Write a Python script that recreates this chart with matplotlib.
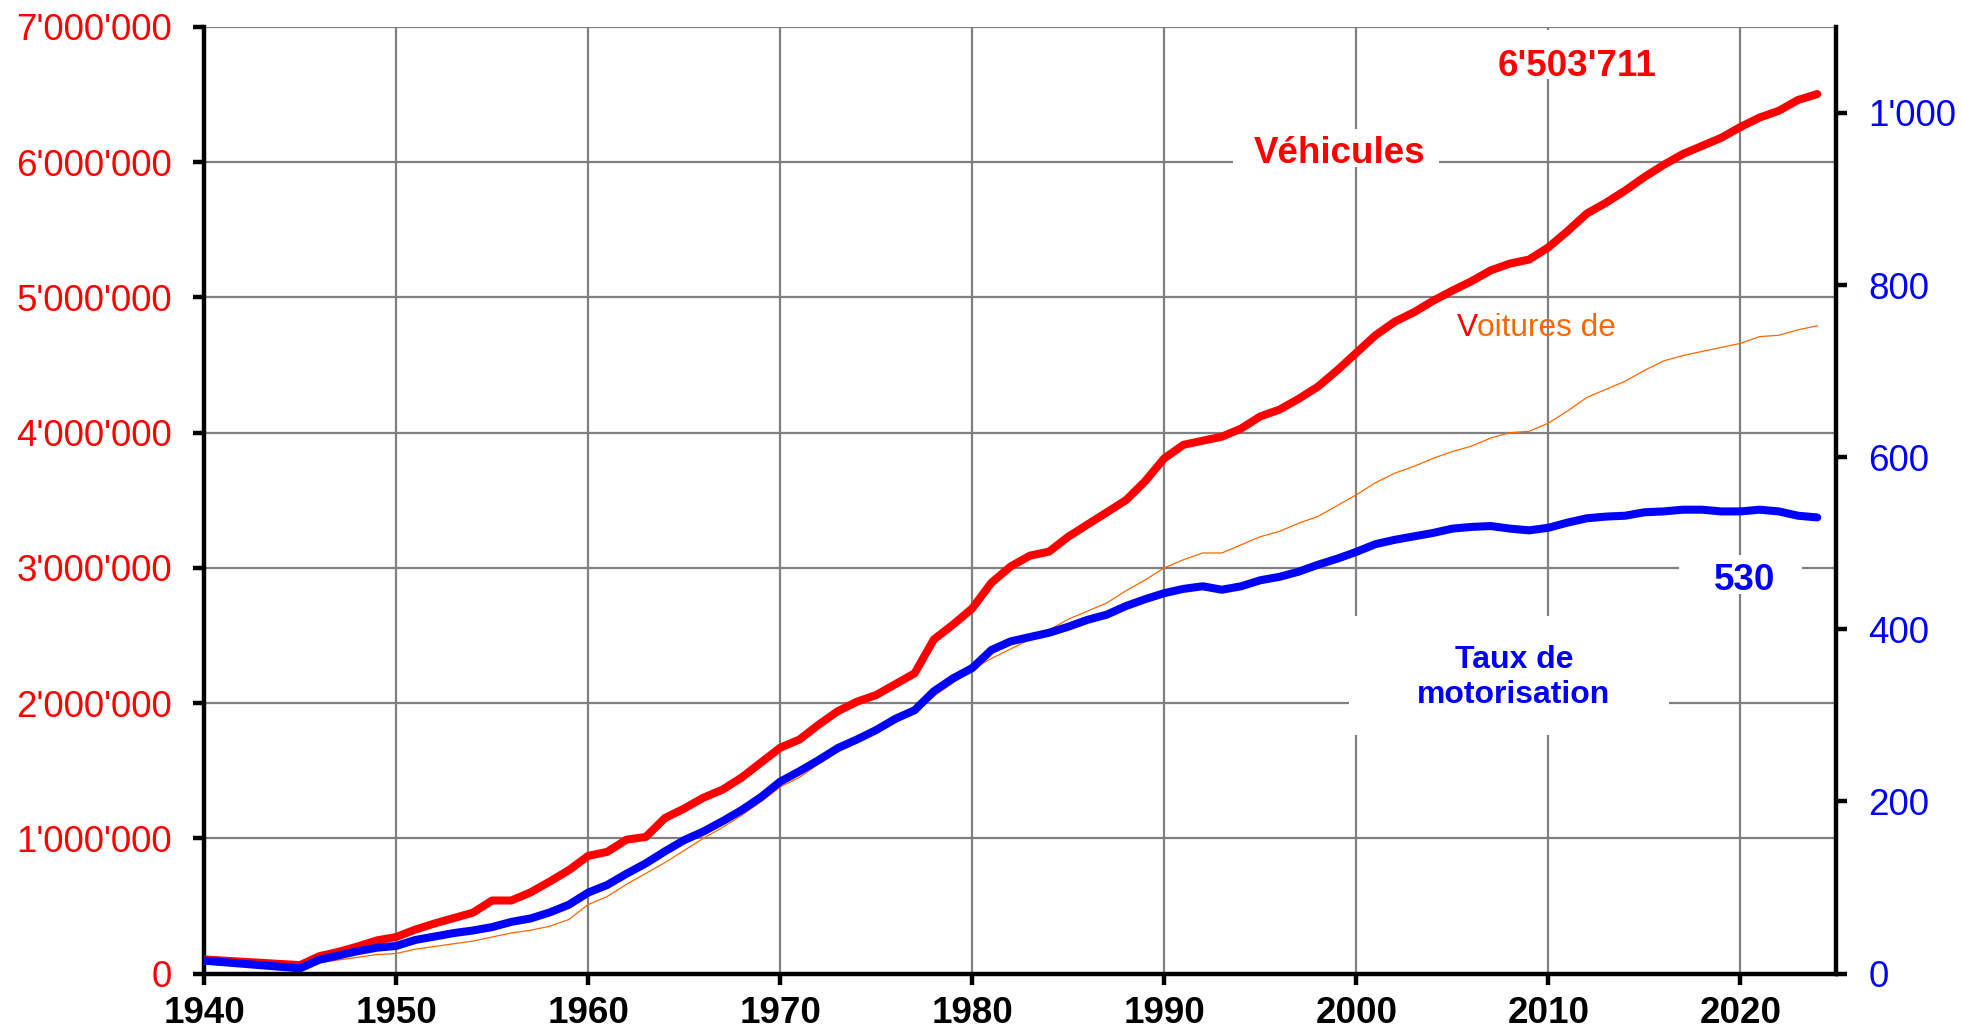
import matplotlib.pyplot as plt
from matplotlib.ticker import FuncFormatter, MultipleLocator

plt.rcParams['font.family'] = ['Liberation Sans', 'DejaVu Sans']

# data (1941-1944 missing in the source)
years = [1940] + list(range(1945, 2025))

vehicles = [0.104,
            0.062, 0.128, 0.16, 0.20, 0.245,
            0.27, 0.325, 0.37, 0.41, 0.45, 0.54, 0.54, 0.60, 0.68, 0.765,
            0.87, 0.90, 0.99, 1.01, 1.15, 1.22, 1.30, 1.36, 1.45, 1.56,
            1.67, 1.73, 1.84, 1.94, 2.01, 2.06, 2.14, 2.22, 2.47, 2.58,
            2.70, 2.89, 3.01, 3.09, 3.12, 3.23, 3.32, 3.41, 3.50, 3.64,
            3.81, 3.91, 3.94, 3.97, 4.03, 4.12, 4.17, 4.25, 4.34, 4.46,
            4.59, 4.72, 4.82, 4.89, 4.975, 5.05, 5.12, 5.20, 5.25, 5.28,
            5.37, 5.49, 5.62, 5.70, 5.79, 5.89, 5.98, 6.06, 6.12, 6.18,
            6.26, 6.33, 6.38, 6.46, 6.503711]

cars = [0.07,
        0.03, 0.08, 0.10, 0.12, 0.14,
        0.148, 0.18, 0.20, 0.22, 0.24, 0.27, 0.30, 0.32, 0.35, 0.40,
        0.51, 0.57, 0.66, 0.74, 0.82, 0.91, 1.00, 1.08, 1.17, 1.27,
        1.38, 1.45, 1.55, 1.64, 1.71, 1.79, 1.86, 1.94, 2.05, 2.15,
        2.25, 2.33, 2.40, 2.47, 2.54, 2.62, 2.68, 2.74, 2.83, 2.91,
        3.00, 3.06, 3.11, 3.11, 3.17, 3.23, 3.27, 3.33, 3.38, 3.46,
        3.54, 3.63, 3.70, 3.75, 3.81, 3.86, 3.90, 3.96, 4.00, 4.01,
        4.07, 4.16, 4.26, 4.32, 4.38, 4.46, 4.53, 4.57, 4.60, 4.63,
        4.66, 4.71, 4.72, 4.76, 4.79]

rate = [15,
        6, 16, 21, 26, 30,
        32, 39, 43, 47, 50, 54, 60, 64, 71, 80,
        94, 103, 116, 128, 142, 155, 165, 177, 190, 205,
        223, 235, 248, 262, 272, 283, 296, 306, 328, 343,
        355, 376, 386, 391, 396, 403, 411, 417, 427, 435,
        442, 447, 450, 446, 450, 457, 461, 467, 475, 482,
        490, 499, 504, 508, 512, 517, 519, 520, 517, 515,
        518, 524, 529, 531, 532, 536, 537, 539, 539, 537,
        537, 539, 537, 532, 530]

vehicles = [v * 1e6 for v in vehicles]
cars = [v * 1e6 for v in cars]

RED = '#ff0000'
BLUE = '#0000ff'
ORANGE = '#ff6600'

fig = plt.figure(figsize=(19.62, 10.36), dpi=100)
ax = fig.add_axes([0.104, 0.0603, 0.832, 0.9137])
ax2 = ax.twinx()

ax.plot(years, cars, color=ORANGE, lw=0.9, zorder=3)
ax.plot(years, vehicles, color=RED, lw=5.8, zorder=4, solid_capstyle='round')
ax2.plot(years, rate, color=BLUE, lw=5.8, zorder=4, solid_capstyle='round')

ax.set_xlim(1940, 2025)
ax.set_ylim(0, 7e6)
ax2.set_ylim(0, 1100)

ax.xaxis.set_major_locator(MultipleLocator(10))
ax.yaxis.set_major_locator(MultipleLocator(1e6))
ax2.yaxis.set_major_locator(MultipleLocator(200))

fmt = FuncFormatter(lambda v, p: f"{int(round(v)):,}".replace(',', "'"))
ax.yaxis.set_major_formatter(fmt)
ax2.yaxis.set_major_formatter(fmt)

ax.set_axisbelow(True)
ax.grid(True, color='#808080', lw=1.6)

for s in ['top', 'right']:
    ax.spines[s].set_visible(False)
for s in ['top', 'left', 'bottom']:
    ax2.spines[s].set_visible(False)
for s in [ax.spines['left'], ax.spines['bottom'], ax2.spines['right']]:
    s.set_linewidth(3.2)
    s.set_color('black')

ax.tick_params(axis='y', direction='out', length=8, width=3.2, pad=15,
               labelsize=26.5, labelcolor=RED)
ax.tick_params(axis='x', direction='out', length=8, width=3.2, pad=8,
               labelsize=26.5)
for lab in ax.get_xticklabels():
    lab.set_fontweight('bold')
ax2.tick_params(axis='y', direction='out', length=8, width=3.2, pad=15,
                labelsize=26.5, labelcolor=BLUE)


def white_box(x0, x1, y0, y1):
    ax.add_patch(plt.Rectangle((x0, y0), x1 - x0, y1 - y0, fc='white',
                               ec='none', zorder=5))


# annotations with white boxes hiding the grid
white_box(2007.0, 2016.0, 6.613e6, 6.98e6)
ax.text(2011.5, 6.71e6, "6'503'711", color=RED, fontsize=26.5, fontweight='bold',
        ha='center', va='center', zorder=6)
white_box(1993.6, 2004.3, 5.962e6, 6.244e6)
ax.text(1999.15, 6.065e6, "Véhicules", color=RED, fontsize=26.5, fontweight='bold',
        ha='center', va='center', zorder=6)
ax.text(2005.25, 4.775e6, "V", color=RED, fontsize=22.8, ha='left', va='center', zorder=6)
ax.text(2006.3, 4.775e6, "oitures de", color=ORANGE, fontsize=22.8, ha='left',
        va='center', zorder=6)
white_box(2016.8, 2023.2, 2.809e6, 3.098e6)
ax.text(2020.2, 2.905e6, "530", color=BLUE, fontsize=26.5, fontweight='bold',
        ha='center', va='center', zorder=6)
white_box(1999.6, 2016.3, 1.765e6, 2.645e6)
ax.text(2008.2, 2.19e6, "Taux de\nmotorisation", color=BLUE, fontsize=23,
        fontweight='bold', ha='center', va='center', linespacing=1.25, zorder=6)

fig.savefig('out.png', dpi=100)
